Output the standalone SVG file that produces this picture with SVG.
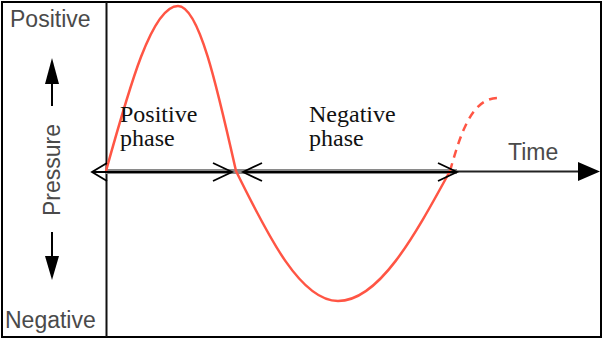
<svg xmlns="http://www.w3.org/2000/svg" width="603" height="340" viewBox="0 0 603 340">
<style>
.sans{font-family:"Liberation Sans",Arial,sans-serif;font-size:23px;fill:#4a4a4a}
.serif{font-family:"Liberation Serif","Times New Roman",serif;font-size:24px;fill:#111}
.curve{fill:none;stroke:#ff5544;stroke-width:2.5}
.dbl{fill:none;stroke:#000;stroke-width:1.8}
</style>
<rect width="603" height="340" fill="#fff"/>
<g id="frame">
<rect x="2" y="2" width="599" height="335" fill="none" stroke="#000" stroke-width="2"/>
<line x1="106.5" y1="2" x2="106.5" y2="337" stroke="#111" stroke-width="2"/>
</g>
<g id="y-axis-label">
<text class="sans" x="10" y="27">Positive</text>
<text class="sans" x="5" y="328">Negative</text>
<text class="sans" transform="translate(60,170) rotate(-90)" text-anchor="middle">Pressure</text>
<line x1="52" y1="80" x2="52" y2="106" stroke="#000" stroke-width="2"/>
<polygon points="52,58 45,84 59,84" fill="#000"/>
<line x1="52" y1="232" x2="52" y2="260" stroke="#000" stroke-width="2"/>
<polygon points="52,280 45,256 59,256" fill="#000"/>
</g>
<g id="time-axis">
<line x1="106" y1="171.5" x2="457" y2="171.5" stroke="#8a8a8a" stroke-width="5"/>
<line x1="457" y1="171.5" x2="582" y2="171.5" stroke="#222" stroke-width="2"/>
<polygon points="600,171.5 578,162 578,181" fill="#000"/>
<text class="sans" x="508" y="160">Time</text>
</g>
<g id="wave">
<path class="curve" d="M106,171 C129.5,86.5 152,6 178,6 C199,6 217,86.5 236,171 C269,238 301,301 338,301 C378.5,301 413.5,238 450,171"/>
<path class="curve" stroke-dasharray="8,6" d="M450,171 C461,132 472,99 497,98"/>
</g>
<g id="connectors">
<g id="positive-phase-arrow">
<line class="dbl" x1="92" y1="172" x2="232" y2="172" stroke-width="1.5"/>
<polyline class="dbl" points="107,163 92,172 107,181"/>
<polyline class="dbl" points="213,163 232,172 213,181"/>
</g>
<g id="negative-phase-arrow">
<line class="dbl" x1="243" y1="172" x2="457" y2="172" stroke-width="1.5"/>
<polyline class="dbl" points="262,163 243,172 262,181"/>
<polyline class="dbl" points="438,163 457,172 438,181"/>
</g>
</g>
<g id="positive-phase">
<text class="serif" x="120" y="122">Positive</text>
<text class="serif" x="120" y="146">phase</text>
</g>
<g id="negative-phase">
<text class="serif" x="309" y="122">Negative</text>
<text class="serif" x="309" y="146">phase</text>
</g>
</svg>
